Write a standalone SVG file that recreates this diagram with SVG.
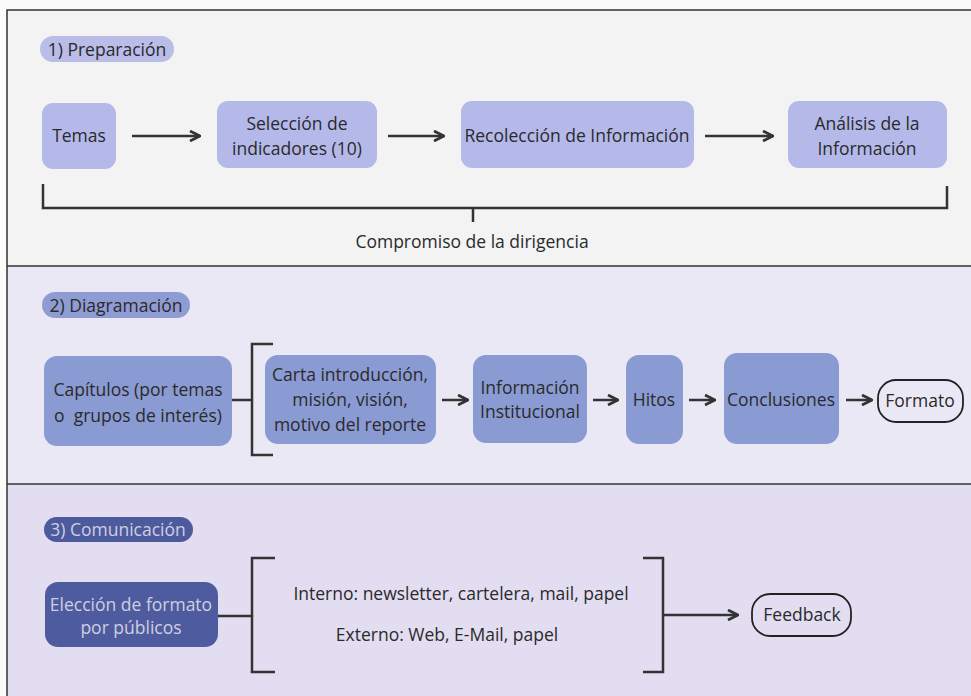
<svg xmlns="http://www.w3.org/2000/svg" width="971" height="696" viewBox="0 0 971 696">
<defs>
<style>
text{font-family:"Open Sans","Noto Sans","Liberation Sans",sans-serif;font-size:17.5px;fill:#2a2a2a;text-anchor:middle}
.n1{fill:#b4b9ea}
.n2{fill:#8a9ad3}
.n3{fill:#4e5c9f}
.lt{fill:#cfcfe0}
.ln{stroke:#333;stroke-width:2.5;fill:none}
.pill{fill:none;stroke:#222;stroke-width:1.8}
</style>
<marker id="ah" viewBox="0 0 10 10" refX="9" refY="5" markerWidth="5" markerHeight="5" orient="auto" markerUnits="strokeWidth">
<path d="M1,1 L9,5 L1,9" fill="none" stroke="#333" stroke-width="2.2"/>
</marker>
</defs>
<rect x="0" y="0" width="971" height="696" fill="#fbfbfa"/>
<rect x="7" y="10" width="964" height="256" fill="#f3f3f4"/>
<rect x="7" y="266" width="964" height="218" fill="#ebe8f5"/>
<rect x="7" y="484" width="964" height="212" fill="#e2ddf0"/>
<g id="frame" stroke="#333" stroke-width="1.5" fill="none">
<path d="M7,696 V10 H971"/>
<path d="M7,266 H971"/>
<path d="M7,484 H971"/>
</g>

<g id="h1"><rect x="40" y="36" width="134" height="26" rx="13" fill="#b9bde8"/><text x="107" y="55.5">1) Preparación</text></g>
<g id="h2"><rect x="42" y="292" width="148" height="26" rx="13" fill="#8f9cd4"/><text x="116" y="311.5">2) Diagramación</text></g>
<g id="h3"><rect x="44" y="517" width="149" height="25" rx="12.5" fill="#4e5a9e"/><text x="118" y="536" class="lt">3) Comunicación</text></g>

<g id="temas"><rect class="n1" x="42" y="103" width="74" height="66" rx="11"/><text x="79" y="142">Temas</text></g>
<g id="seleccion"><rect class="n1" x="217" y="101" width="160" height="67" rx="11"/><text x="297" y="130">Selección de</text><text x="297" y="155">indicadores (10)</text></g>
<g id="recoleccion"><rect class="n1" x="461" y="101" width="233" height="67" rx="11"/><text x="577" y="142">Recolección de Información</text></g>
<g id="analisis"><rect class="n1" x="788" y="101" width="159" height="67" rx="11"/><text x="867" y="130">Análisis de la</text><text x="867" y="155">Información</text></g>
<g id="compromiso"><text x="472" y="248">Compromiso de la dirigencia</text></g>

<g id="capitulos"><rect class="n2" x="44" y="356" width="188" height="90" rx="13"/><text x="138" y="396">Capítulos (por temas</text><text x="138" y="422" xml:space="preserve">o  grupos de interés)</text></g>
<g id="carta"><rect class="n2" x="265" y="355" width="171" height="89" rx="13"/><text x="350" y="381">Carta introducción,</text><text x="350" y="406">misión, visión,</text><text x="350" y="431">motivo del reporte</text></g>
<g id="institucional"><rect class="n2" x="473" y="355" width="114" height="88" rx="13"/><text x="530" y="394">Información</text><text x="530" y="418">Institucional</text></g>
<g id="hitos"><rect class="n2" x="626" y="355" width="57" height="89" rx="13"/><text x="654" y="406">Hitos</text></g>
<g id="conclusiones"><rect class="n2" x="724" y="353" width="115" height="91" rx="13"/><text x="781" y="406">Conclusiones</text></g>
<g id="formato"><rect class="pill" x="878" y="380" width="85" height="42" rx="18"/><text x="920" y="407">Formato</text></g>

<g id="eleccion"><rect class="n3" x="45" y="582" width="173" height="65" rx="13"/><text x="131" y="611" class="lt">Elección de formato</text><text x="131" y="634" class="lt">por públicos</text></g>
<g id="canales"><text x="461" y="600">Interno: newsletter, cartelera, mail, papel</text><text x="447" y="641">Externo: Web, E-Mail, papel</text></g>
<g id="feedback"><rect class="pill" x="752" y="594" width="99" height="42" rx="18"/><text x="802" y="621">Feedback</text></g>

<g id="connectors">
<line class="ln" x1="132" y1="136" x2="200" y2="136" marker-end="url(#ah)"/>
<line class="ln" x1="388" y1="136" x2="444" y2="136" marker-end="url(#ah)"/>
<line class="ln" x1="705" y1="136" x2="773" y2="136" marker-end="url(#ah)"/>
<path class="ln" d="M43,184 V208 H947 V186"/>
<line class="ln" x1="473" y1="208" x2="473" y2="222"/>

<line class="ln" x1="232" y1="400" x2="252" y2="400"/>
<path class="ln" d="M273,344 H252 V455 H273"/>
<line class="ln" x1="442" y1="400" x2="468" y2="400" marker-end="url(#ah)"/>
<line class="ln" x1="593" y1="400" x2="618" y2="400" marker-end="url(#ah)"/>
<line class="ln" x1="689" y1="400" x2="715" y2="400" marker-end="url(#ah)"/>
<line class="ln" x1="846" y1="400" x2="872" y2="400" marker-end="url(#ah)"/>

<line class="ln" x1="218" y1="616" x2="252" y2="616"/>
<path class="ln" d="M275,558 H252 V672 H275"/>
<path class="ln" d="M643,558 H663 V672 H643"/>
<line class="ln" x1="663" y1="615" x2="738" y2="615" marker-end="url(#ah)"/>
</g>
</svg>
